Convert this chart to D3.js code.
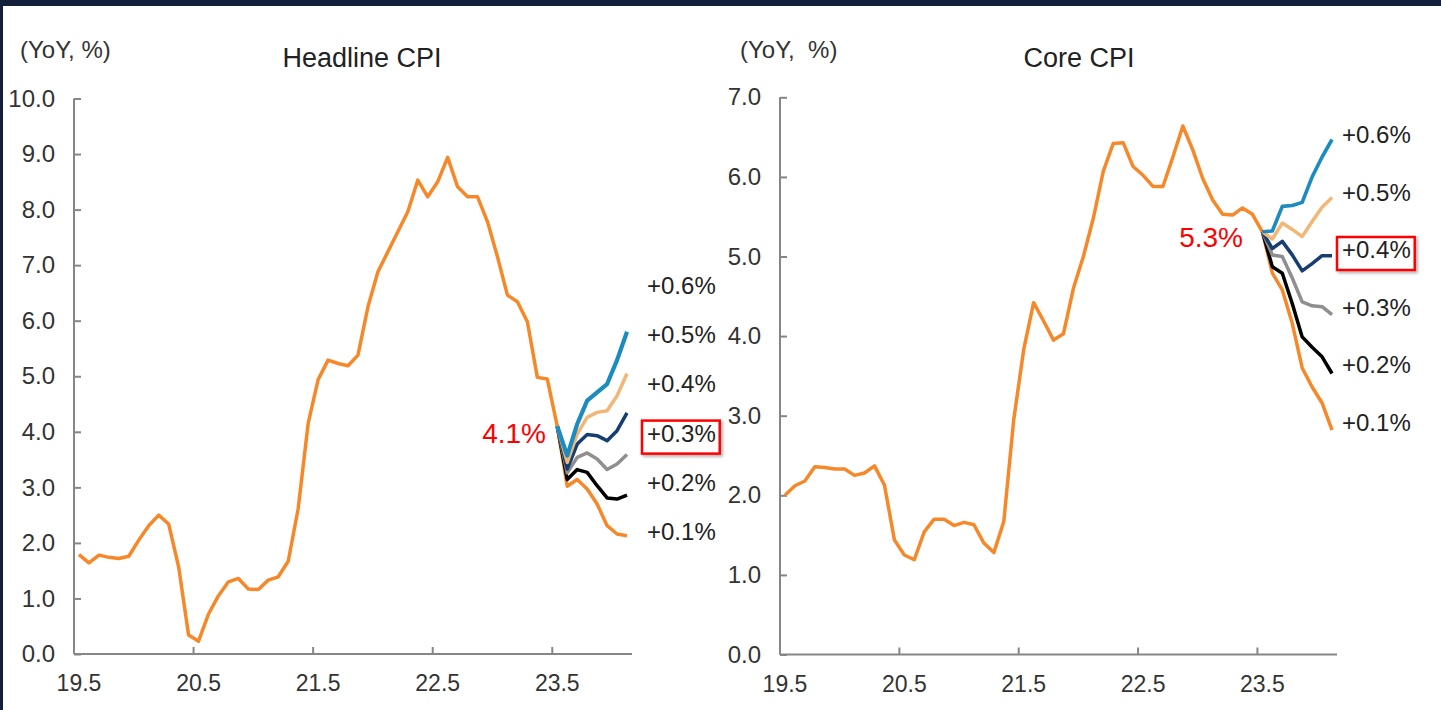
<!DOCTYPE html>
<html lang="en">
<head>
<meta charset="UTF-8">
<title>Headline CPI / Core CPI scenarios</title>
<script src="https://d3js.org/d3.v7.min.js"></script>
<style>
html, body {
  margin: 0;
  padding: 0;
  background: #fff;
}
body {
  font-family: 'Liberation Sans', Arial, sans-serif;
}
#frame {
  position: relative;
  width: 1441px;
  height: 710px;
  overflow: hidden;
}
.tick text {
  fill: #333;
  font-size: 23px;
}
.yaxis .tick text {
  font-size: 24px;
}
.axis path, .axis line {
  stroke: #868686;
  stroke-width: 2px;
}
.title {
  font-size: 27px;
  fill: #222;
  text-anchor: middle;
}
.unit {
  font-size: 24px;
  fill: #333;
}
.scen-label {
  font-size: 24px;
  fill: #222;
}
.start-label {
  font-size: 28px;
  fill: #ff0000;
  text-anchor: end;
}
</style>
</head>
<body>
<div id="frame"><svg width="1441" height="710"></svg></div>
<script>
// month categories 19.5 ... 23.12 (May 2019 - Dec 2023)
var months = d3.timeMonth.range(new Date(2019, 4, 1), new Date(2024, 0, 1));
var tickMonths = ["19.5", "20.5", "21.5", "22.5", "23.5"];

// actual YoY, May 2019 - May 2023
var headlineActual = [1.79, 1.64, 1.78, 1.74, 1.72, 1.76, 2.05, 2.31, 2.50, 2.34,
  1.57, 0.34, 0.23, 0.72, 1.05, 1.30, 1.36, 1.17, 1.16, 1.33,
  1.39, 1.67, 2.62, 4.15, 4.94, 5.29, 5.23, 5.19, 5.38, 6.25,
  6.88, 7.24, 7.60, 7.96, 8.53, 8.23, 8.50, 8.94, 8.41, 8.23,
  8.23, 7.78, 7.15, 6.46, 6.34, 5.98, 4.98, 4.95, 4.10];

var coreActual = [2.00, 2.12, 2.18, 2.36, 2.35, 2.33, 2.33, 2.25, 2.28, 2.37,
  2.13, 1.44, 1.25, 1.19, 1.54, 1.70, 1.70, 1.62, 1.66, 1.63,
  1.40, 1.28, 1.67, 2.95, 3.83, 4.42, 4.19, 3.95, 4.03, 4.60,
  5.00, 5.48, 6.07, 6.42, 6.43, 6.13, 6.02, 5.88, 5.88, 6.25,
  6.64, 6.34, 5.98, 5.71, 5.53, 5.52, 5.61, 5.53, 5.31];

// scenario paths May 2023 - Dec 2023, by assumed monthly change
var scenarioNames = ["+0.6%", "+0.5%", "+0.4%", "+0.3%", "+0.2%", "+0.1%"];
var scenarioColors = ["#1c8bbf", "#f2b675", "#173e72", "#8f8f8f", "#000000", "#f7882a"];

var headlineScen06 = [4.10, 3.57, 4.14, 4.56, 4.71, 4.86, 5.29, 5.80];
var headlineScen05 = [4.10, 3.45, 3.96, 4.26, 4.35, 4.38, 4.65, 5.05];
var headlineScen04 = [4.10, 3.33, 3.78, 3.95, 3.93, 3.84, 4.02, 4.34];
var headlineScen03 = [4.10, 3.26, 3.54, 3.62, 3.51, 3.32, 3.42, 3.59];
var headlineScen02 = [4.10, 3.14, 3.32, 3.27, 3.03, 2.81, 2.79, 2.86];
var headlineScen01 = [4.10, 3.02, 3.14, 2.97, 2.70, 2.31, 2.16, 2.13];

var coreScen06 = [5.31, 5.32, 5.63, 5.64, 5.68, 6.00, 6.25, 6.47];
var coreScen05 = [5.31, 5.22, 5.42, 5.34, 5.25, 5.44, 5.62, 5.74];
var coreScen04 = [5.31, 5.10, 5.19, 5.02, 4.82, 4.91, 5.01, 5.01];
var coreScen03 = [5.31, 5.02, 5.00, 4.73, 4.43, 4.38, 4.37, 4.27];
var coreScen02 = [5.31, 4.87, 4.79, 4.41, 3.99, 3.86, 3.74, 3.53];
var coreScen01 = [5.31, 4.79, 4.58, 4.16, 3.60, 3.36, 3.16, 2.82];

var panels = [
  {
    title: "Headline CPI", unit: "(YoY, %)", actual: headlineActual,
    scen: [headlineScen06, headlineScen05, headlineScen04, headlineScen03, headlineScen02, headlineScen01],
    yMax: 10, startLabel: "4.1%", highlight: "+0.3%",
    x0: 74, x1: 632, yTop: 98.5, yBot: 654, titleX: 362, unitX: 20,
    labX: 647, labY: 294, labStep: 49.2, startX: 546, startY: 443, blueWidth: 4.2
  },
  {
    title: "Core CPI", unit: "(YoY,\u00a0 %)", actual: coreActual,
    scen: [coreScen06, coreScen05, coreScen04, coreScen03, coreScen02, coreScen01],
    yMax: 7, startLabel: "5.3%", highlight: "+0.4%",
    x0: 780, x1: 1337, yTop: 97.3, yBot: 654.5, titleX: 1079, unitX: 740,
    labX: 1342, labY: 143, labStep: 57.5, startX: 1243, startY: 247, blueWidth: 3.6
  }
];

var svg = d3.select("svg");

// frame edges
svg.append("rect").attr("x", 0).attr("y", 0).attr("width", 1441).attr("height", 6).attr("fill", "#13203a");
svg.append("rect").attr("x", 0).attr("y", 0).attr("width", 3).attr("height", 710).attr("fill", "#13203a");

var defs = svg.append("defs");
var shadow = defs.append("filter").attr("id", "boxShadow")
  .attr("x", "-20%").attr("y", "-30%").attr("width", "150%").attr("height", "170%");
shadow.append("feDropShadow")
  .attr("dx", 2).attr("dy", 2).attr("stdDeviation", 1.5)
  .attr("flood-color", "#000").attr("flood-opacity", 0.3);

var fmtMonth = d3.timeFormat("%y.%-m");

panels.forEach(function(p) {
  var g = svg.append("g");

  var x = d3.scaleBand()
    .domain(months.map(fmtMonth))
    .range([p.x0, p.x1])
    .paddingInner(0)
    .paddingOuter(0);
  var bw = x.bandwidth();
  var cx = function(i) { return x(fmtMonth(months[i])) + bw / 2; };

  var y = d3.scaleLinear().domain([0, p.yMax]).range([p.yBot, p.yTop]);

  // y axis, ticks drawn inside
  g.append("g")
    .attr("class", "axis yaxis")
    .attr("transform", "translate(" + p.x0 + ",0)")
    .call(d3.axisLeft(y)
      .tickValues(d3.range(0, p.yMax + 0.5, 1))
      .tickFormat(d3.format(".1f"))
      .tickSizeInner(-7)
      .tickSizeOuter(0)
      .tickPadding(19))
    .call(function(a) { a.select(".domain").attr("d", "M0," + p.yBot + "V" + p.yTop); });

  // x axis: ticks on category boundaries, labels on category centre
  var xa = g.append("g").attr("class", "axis");
  xa.append("path")
    .attr("class", "domain")
    .attr("fill", "none")
    .attr("d", "M" + p.x0 + "," + p.yBot + "H" + p.x1);
  var xt = xa.selectAll(".tick")
    .data(tickMonths)
    .enter()
    .append("g")
    .attr("class", "tick")
    .attr("transform", function(d) { return "translate(" + x(d) + "," + p.yBot + ")"; });
  xt.append("line").attr("y2", -7);
  xt.append("text")
    .attr("x", bw / 2)
    .attr("y", 37)
    .attr("text-anchor", "middle")
    .text(function(d) { return d; });

  // titles
  g.append("text").attr("class", "title").attr("x", p.titleX).attr("y", 67).text(p.title);
  g.append("text").attr("class", "unit").attr("x", p.unitX).attr("y", 58).text(p.unit);

  var line = d3.line()
    .x(function(d) { return cx(d.i); })
    .y(function(d) { return y(d.v); });

  var start = p.actual.length - 1;

  // actual series
  g.append("path")
    .datum(p.actual.map(function(v, i) { return {i: i, v: v}; }))
    .attr("fill", "none")
    .attr("stroke", scenarioColors[5])
    .attr("stroke-width", 3.5)
    .attr("stroke-linejoin", "round")
    .attr("d", line);

  // scenarios, lowest first so +0.6% sits on top
  d3.range(p.scen.length - 1, -1, -1).forEach(function(k) {
    g.append("path")
      .datum(p.scen[k].map(function(v, j) { return {i: start + j, v: v}; }))
      .attr("fill", "none")
      .attr("stroke", scenarioColors[k])
      .attr("stroke-width", k === 0 ? p.blueWidth : 3.5)
      .attr("stroke-linejoin", "round")
      .attr("d", line);
  });

  // scenario labels
  var labs = g.selectAll(".scen-label")
    .data(scenarioNames)
    .enter()
    .append("text")
    .attr("class", "scen-label")
    .attr("x", p.labX)
    .attr("y", function(d, i) { return p.labY + i * p.labStep; })
    .text(function(d) { return d; });

  labs.filter(function(d) { return d === p.highlight; }).each(function() {
    var b = this.getBBox();
    g.insert("rect", ".scen-label")
      .attr("x", b.x - 5)
      .attr("y", b.y + 1)
      .attr("width", b.width + 9)
      .attr("height", b.height + 6)
      .attr("fill", "#fff")
      .attr("stroke", "#ff0000")
      .attr("stroke-width", 2.5)
      .attr("filter", "url(#boxShadow)");
  });

  g.append("text")
    .attr("class", "start-label")
    .attr("x", p.startX)
    .attr("y", p.startY)
    .text(p.startLabel);
});
</script>
</body>
</html>
